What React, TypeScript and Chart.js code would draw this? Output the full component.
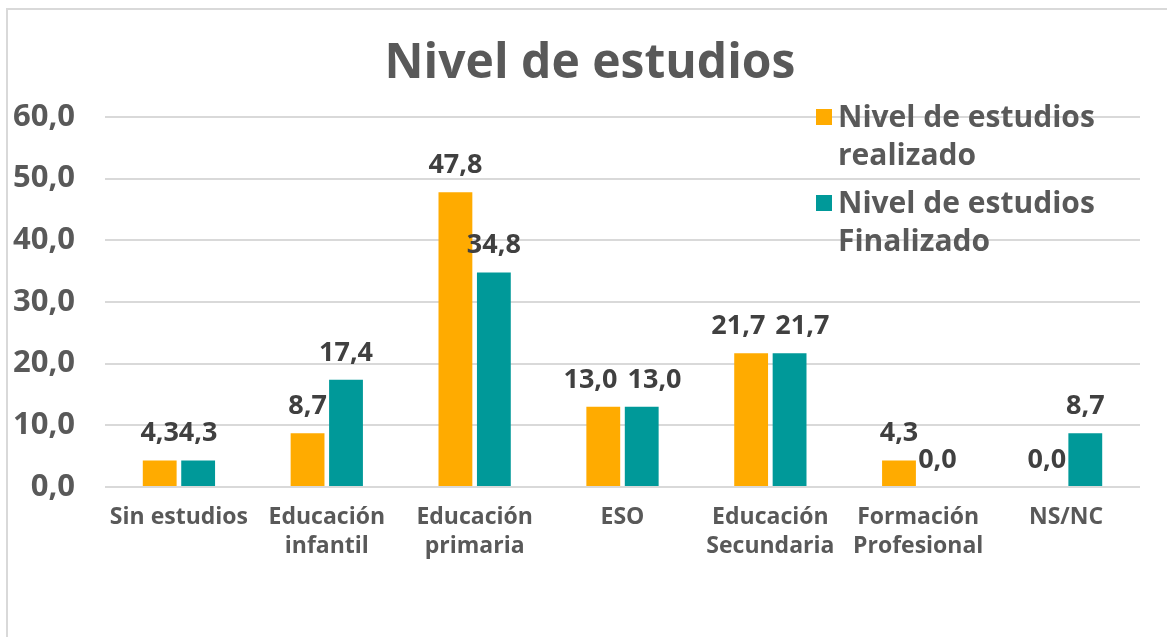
import React, { useEffect, useRef } from "react";
import { Chart, registerables } from "chart.js";

Chart.register(...registerables);

const categories: string[][] = [
  ["Sin estudios"],
  ["Educación", "infantil"],
  ["Educación", "primaria"],
  ["ESO"],
  ["Educación", "Secundaria"],
  ["Formación", "Profesional"],
  ["NS/NC"],
];
const realizado: number[] = [4.3, 8.7, 47.8, 13.0, 21.7, 4.3, 0.0];
const finalizado: number[] = [4.3, 17.4, 34.8, 13.0, 21.7, 0.0, 8.7];
const seriesNames: string[][] = [
  ["Nivel de estudios", "realizado"],
  ["Nivel de estudios", "Finalizado"],
];
const titleText = "Nivel de estudios";

const ORANGE = "#FFAB00";
const TEAL = "#009999";
const GRAY = "#595959";
const DARK = "#404040";
const FONT = "'Open Sans', sans-serif";

const fmt = (v: number) => v.toFixed(1).replace(".", ",");

const decorPlugin = {
  id: "decor",
  beforeDraw(chart: any) {
    const ctx = chart.ctx;
    ctx.save();
    ctx.fillStyle = "#ffffff";
    ctx.fillRect(0, 0, chart.width, chart.height);
    ctx.strokeStyle = "#d9d9d9";
    ctx.lineWidth = 2;
    ctx.strokeRect(7, 9, chart.width + 50, chart.height + 50);
    ctx.restore();
  },
  afterDraw(chart: any) {
    const ctx = chart.ctx;
    const area = chart.chartArea;
    ctx.save();
    // title
    ctx.fillStyle = GRAY;
    ctx.font = `bold 48px ${FONT}`;
    ctx.textAlign = "center";
    ctx.textBaseline = "middle";
    ctx.fillText(titleText, 590, 64);
    // legend
    const colors = [ORANGE, TEAL];
    const lx = area.right - 324;
    let ly = area.top;
    ctx.font = `bold 30px ${FONT}`;
    ctx.textAlign = "left";
    seriesNames.forEach((lines, i) => {
      ctx.fillStyle = colors[i];
      ctx.fillRect(lx, ly - 8, 16, 16);
      ctx.fillStyle = GRAY;
      lines.forEach((t, j) => {
        ctx.fillText(t, lx + 22, ly + 1 + j * 38);
      });
      ly += 86;
    });
    ctx.restore();
  },
  afterDatasetsDraw(chart: any) {
    const ctx = chart.ctx;
    ctx.save();
    ctx.fillStyle = DARK;
    ctx.font = `bold 27px ${FONT}`;
    ctx.textAlign = "center";
    ctx.textBaseline = "alphabetic";
    const n = chart.data.labels.length;
    for (let i = 0; i < n; i++) {
      const items: { x: number; y: number; w: number; t: string }[] = [];
      chart.data.datasets.forEach((ds: any, di: number) => {
        const el = chart.getDatasetMeta(di).data[i];
        const t = fmt(ds.data[i]);
        items.push({ x: el.x, y: el.y - 19, w: ctx.measureText(t).width, t });
      });
      // simple collision avoidance between neighbouring labels at similar height
      for (let k = 0; k + 1 < items.length; k++) {
        const a = items[k];
        const b = items[k + 1];
        if (Math.abs(a.y - b.y) < 24) {
          const overlap = a.x + a.w / 2 - (b.x - b.w / 2);
          if (overlap > 4) {
            const push = (overlap + 10) / 2;
            a.x -= push;
            b.x += push;
          }
        }
      }
      items.forEach((it) => ctx.fillText(it.t, it.x, it.y));
    }
    ctx.restore();
  },
};

export default function App() {
  const ref = useRef<HTMLCanvasElement>(null);
  useEffect(() => {
    if (!ref.current) return;
    const chart = new Chart(ref.current, {
      type: "bar",
      data: {
        labels: categories,
        datasets: [
          { label: seriesNames[0].join(" "), data: realizado, backgroundColor: ORANGE },
          { label: seriesNames[1].join(" "), data: finalizado, backgroundColor: TEAL },
        ],
      },
      options: {
        responsive: false,
        animation: false,
        devicePixelRatio: 1,
        layout: { padding: { top: 117, right: 27, left: 0, bottom: 0 } },
        datasets: { bar: { categoryPercentage: 0.52, barPercentage: 0.88 } },
        plugins: {
          legend: { display: false },
          title: { display: false },
          tooltip: { enabled: false },
        },
        scales: {
          x: {
            grid: { display: false, drawTicks: false },
            border: { display: false },
            ticks: {
              color: GRAY,
              font: { family: FONT, size: 23, weight: "bold", lineHeight: 1.25 },
              padding: 16,
              maxRotation: 0,
              autoSkip: false,
            },
            afterFit(scale: any) {
              scale.height = 150;
            },
          },
          y: {
            min: 0,
            max: 60,
            grid: { color: "#d9d9d9", lineWidth: 2, drawTicks: false },
            border: { display: false },
            ticks: {
              stepSize: 10,
              color: GRAY,
              font: { family: FONT, size: 31, weight: "bold" },
              padding: 30,
              callback: (v: any) => fmt(Number(v)),
            },
            afterFit(scale: any) {
              scale.width = 105;
            },
          },
        },
      },
      plugins: [decorPlugin],
    } as any);
    return () => chart.destroy();
  }, []);
  return (
    <div style={{ position: "fixed", left: 0, top: 0, width: 1167, height: 637, overflow: "hidden", background: "#fff" }}>
      <canvas ref={ref} width={1167} height={637} />
    </div>
  );
}
